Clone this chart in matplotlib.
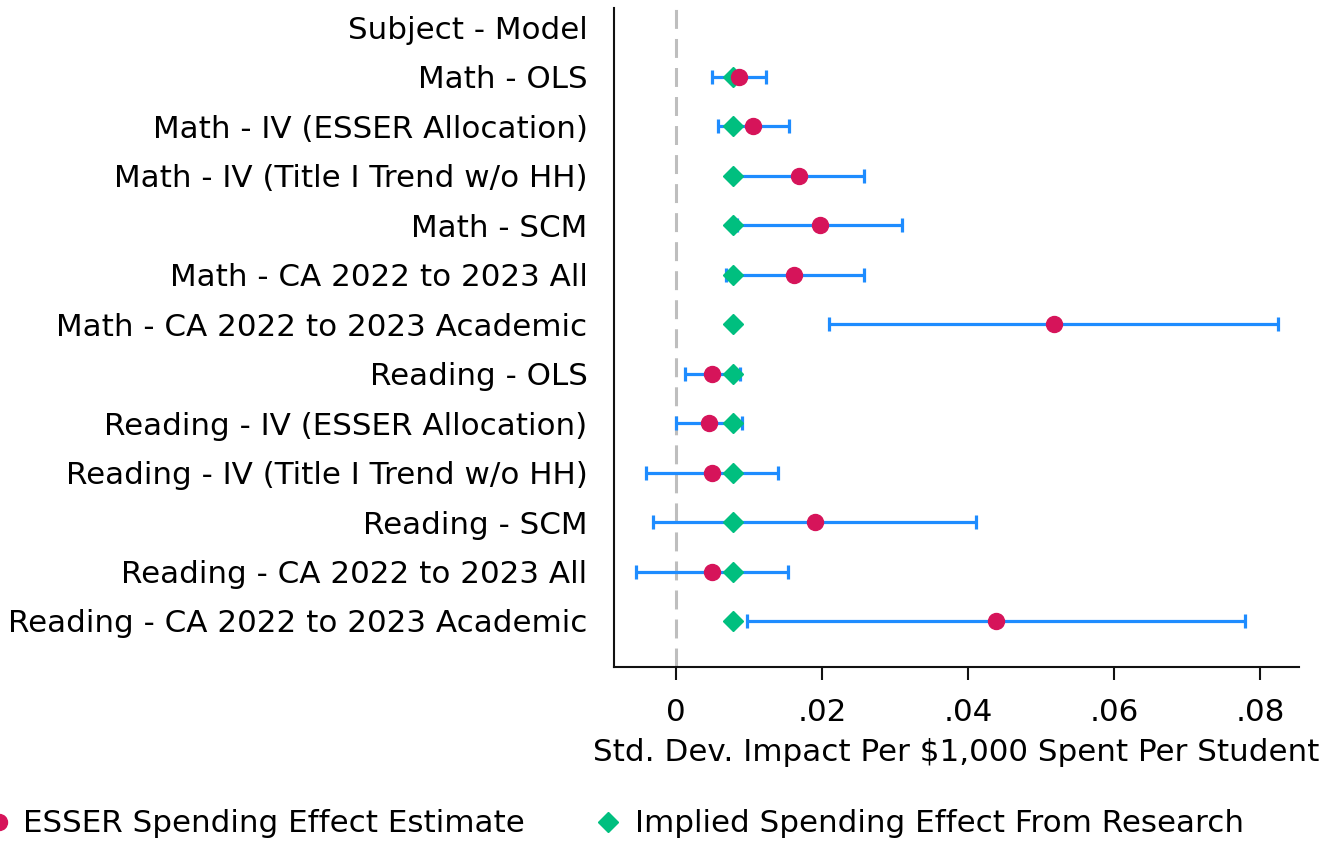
import matplotlib
matplotlib.use("Agg")
import matplotlib.pyplot as plt
from matplotlib.lines import Line2D

plt.rcParams['font.family'] = ['DejaVu Sans']

# rows top to bottom (first row is the header, no data)
labels = ["Subject - Model",
          "Math - OLS",
          "Math - IV (ESSER Allocation)",
          "Math - IV (Title I Trend w/o HH)",
          "Math - SCM",
          "Math - CA 2022 to 2023 All",
          "Math - CA 2022 to 2023 Academic",
          "Reading - OLS",
          "Reading - IV (ESSER Allocation)",
          "Reading - IV (Title I Trend w/o HH)",
          "Reading - SCM",
          "Reading - CA 2022 to 2023 All",
          "Reading - CA 2022 to 2023 Academic"]

estimate = [0.0086, 0.0106, 0.0168, 0.0197, 0.0162, 0.0517,
            0.0049, 0.0045, 0.0049, 0.0190, 0.0049, 0.0438]
ci_low = [0.0049, 0.0057, 0.0080, 0.0083, 0.0068, 0.0209,
          0.0012, 0.0000, -0.0041, -0.0031, -0.0055, 0.0097]
ci_high = [0.0123, 0.0155, 0.0257, 0.0310, 0.0257, 0.0824,
           0.0087, 0.0090, 0.0139, 0.0411, 0.0153, 0.0779]
implied = [0.0078] * 12

xticks = [0, 0.02, 0.04, 0.06, 0.08]
xticklabels = ["0", ".02", ".04", ".06", ".08"]

RED = "#D6145A"
GREEN = "#00BF7F"
BLUE = "#1E8CFF"
FS = 22.3

fig = plt.figure(figsize=(13.4, 8.44), dpi=100)
ax = fig.add_axes([614 / 1340, 1 - 667 / 844, (1299 - 614) / 1340, (667 - 8) / 844])

ypos = list(range(1, len(labels)))

ax.axvline(0, color="#BEBEBE", lw=2.2, dashes=(6.2, 3.3), zorder=1)

err_lo = [e - l for e, l in zip(estimate, ci_low)]
err_hi = [h - e for e, h in zip(estimate, ci_high)]
ax.errorbar(estimate, ypos, xerr=[err_lo, err_hi], fmt="none", ecolor=BLUE,
            elinewidth=2.3, capsize=5, capthick=2.3, zorder=2)
ax.plot(implied, ypos, "D", color=GREEN, ms=10, mec=GREEN, zorder=3)
ax.plot(estimate, ypos, "o", color=RED, ms=11.5, mec=RED, zorder=4)

ax.set_xlim(-0.0085, 0.0853)
ax.set_ylim(12.93, -0.39)
ax.set_yticks(range(len(labels)))
ax.set_yticklabels(labels)
ax.set_xticks(xticks)
ax.set_xticklabels(xticklabels)

for s in ["top", "right"]:
    ax.spines[s].set_visible(False)
for s in ["left", "bottom"]:
    ax.spines[s].set_linewidth(1.5)
    ax.spines[s].set_color("#111111")

ax.tick_params(axis="y", length=0, pad=19, labelsize=FS)
ax.tick_params(axis="x", length=9.5, width=1.5, pad=13, labelsize=FS, color="#111111")
ax.set_xlabel("Std. Dev. Impact Per \\$1,000 Spent Per Student", fontsize=FS, labelpad=8)

h_red = Line2D([], [], ls="none", marker="o", color=RED, ms=11.5)
h_green = Line2D([], [], ls="none", marker="D", color=GREEN, ms=10)
fig.legend([h_red], ["ESSER Spending Effect Estimate"], loc="center left",
           bbox_to_anchor=(-11.5 / 1340, 1 - 824 / 844), frameon=False, fontsize=FS,
           handlelength=0.68, handletextpad=0.42, borderpad=0, borderaxespad=0)
fig.legend([h_green], ["Implied Spending Effect From Research"], loc="center left",
           bbox_to_anchor=(597.5 / 1340, 1 - 824 / 844), frameon=False, fontsize=FS,
           handlelength=0.68, handletextpad=0.53, borderpad=0, borderaxespad=0)

fig.savefig("out.png", dpi=100)
